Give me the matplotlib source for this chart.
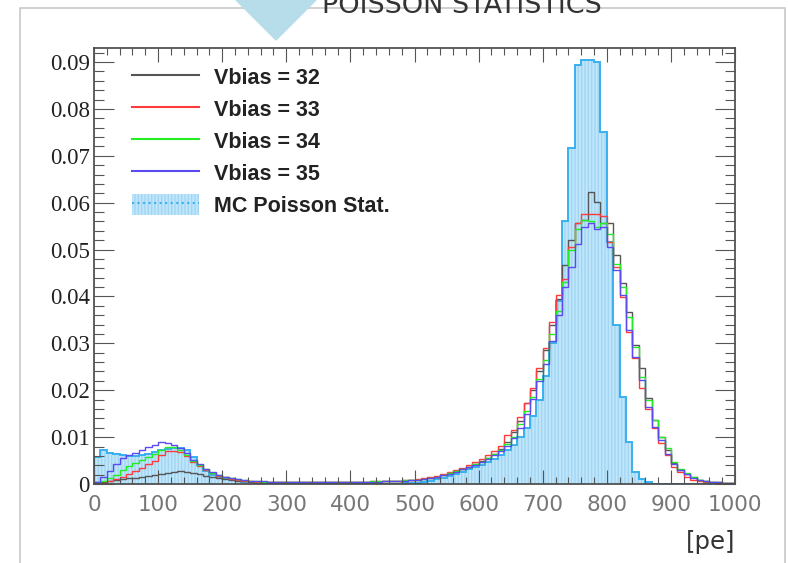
import numpy as np
import matplotlib.pyplot as plt
from matplotlib.lines import Line2D
from matplotlib.patches import Patch, Polygon, Rectangle

# bin edges [pe], 10 pe bins
edges = np.arange(0, 1010, 10)

vbias32 = [0.0005, 0.0005, 0.0006, 0.0009, 0.0010, 0.0012, 0.0013, 0.0015, 0.0018, 0.0020,
           0.0022, 0.0024, 0.0026, 0.0027, 0.0026, 0.0024, 0.0021, 0.0018, 0.0015, 0.0012,
           0.0010, 0.0008, 0.0007, 0.0006, 0.0005, 0.0005, 0.0004, 0.0004, 0.0004, 0.0004,
           0.0004, 0.0004, 0.0004, 0.0004, 0.0004, 0.0004, 0.0004, 0.0004, 0.0004, 0.0005,
           0.0005, 0.0005, 0.0005, 0.0005, 0.0005, 0.0006, 0.0006, 0.0007, 0.0007, 0.0008,
           0.0009, 0.0011, 0.0013, 0.0016, 0.0019, 0.0023, 0.0027, 0.0032, 0.0037, 0.0043,
           0.0049, 0.0056, 0.0064, 0.0075, 0.0090, 0.0110, 0.0135, 0.0172, 0.0200, 0.0240,
           0.0285, 0.0340, 0.0395, 0.0467, 0.0520, 0.0556, 0.0563, 0.0623, 0.0602, 0.0557,
           0.0557, 0.0488, 0.0428, 0.0367, 0.0296, 0.0247, 0.0183, 0.0136, 0.0100, 0.0072,
           0.0045, 0.0030, 0.0021, 0.0014, 0.0009, 0.0006, 0.0005, 0.0004, 0.0003, 0.0003]

vbias33 = [0.0002, 0.0003, 0.0006, 0.0010, 0.0016, 0.0022, 0.0028, 0.0034, 0.0042, 0.0050,
           0.0062, 0.0070, 0.0071, 0.0068, 0.0060, 0.0048, 0.0038, 0.0030, 0.0023, 0.0018,
           0.0014, 0.0011, 0.0009, 0.0007, 0.0006, 0.0005, 0.0005, 0.0005, 0.0004, 0.0004,
           0.0004, 0.0004, 0.0004, 0.0004, 0.0004, 0.0004, 0.0005, 0.0005, 0.0005, 0.0005,
           0.0005, 0.0005, 0.0005, 0.0006, 0.0006, 0.0006, 0.0007, 0.0007, 0.0008, 0.0009,
           0.0010, 0.0012, 0.0014, 0.0017, 0.0021, 0.0025, 0.0029, 0.0034, 0.0040, 0.0046,
           0.0053, 0.0061, 0.0070, 0.0082, 0.0104, 0.0115, 0.0144, 0.0172, 0.0204, 0.0247,
           0.0290, 0.0346, 0.0403, 0.0438, 0.0506, 0.0556, 0.0577, 0.0577, 0.0575, 0.0572,
           0.0517, 0.0463, 0.0399, 0.0325, 0.0268, 0.0204, 0.0161, 0.0119, 0.0087, 0.0062,
           0.0037, 0.0026, 0.0016, 0.0009, 0.0007, 0.0005, 0.0004, 0.0003, 0.0003, 0.0002]

vbias34 = [0.0003, 0.0006, 0.0012, 0.0020, 0.0030, 0.0038, 0.0045, 0.0052, 0.0058, 0.0064,
           0.0072, 0.0080, 0.0078, 0.0072, 0.0062, 0.0050, 0.0040, 0.0031, 0.0024, 0.0019,
           0.0015, 0.0012, 0.0010, 0.0008, 0.0007, 0.0006, 0.0005, 0.0005, 0.0005, 0.0005,
           0.0005, 0.0005, 0.0005, 0.0005, 0.0005, 0.0005, 0.0005, 0.0005, 0.0005, 0.0005,
           0.0005, 0.0005, 0.0005, 0.0006, 0.0006, 0.0006, 0.0007, 0.0007, 0.0008, 0.0008,
           0.0009, 0.0011, 0.0013, 0.0016, 0.0019, 0.0023, 0.0027, 0.0031, 0.0036, 0.0042,
           0.0048, 0.0055, 0.0063, 0.0072, 0.0085, 0.0100, 0.0128, 0.0155, 0.0185, 0.0225,
           0.0265, 0.0320, 0.0370, 0.0430, 0.0499, 0.0545, 0.0563, 0.0560, 0.0549, 0.0556,
           0.0534, 0.0470, 0.0420, 0.0357, 0.0293, 0.0229, 0.0179, 0.0136, 0.0101, 0.0076,
           0.0048, 0.0033, 0.0023, 0.0014, 0.0009, 0.0006, 0.0005, 0.0004, 0.0003, 0.0003]

vbias35 = [0.0005, 0.0015, 0.0028, 0.0042, 0.0055, 0.0062, 0.0066, 0.0072, 0.0078, 0.0084,
           0.0090, 0.0088, 0.0084, 0.0077, 0.0066, 0.0052, 0.0042, 0.0032, 0.0025, 0.0019,
           0.0015, 0.0012, 0.0010, 0.0008, 0.0007, 0.0006, 0.0006, 0.0005, 0.0005, 0.0005,
           0.0005, 0.0005, 0.0005, 0.0005, 0.0005, 0.0005, 0.0005, 0.0005, 0.0005, 0.0005,
           0.0004, 0.0004, 0.0004, 0.0005, 0.0005, 0.0006, 0.0006, 0.0007, 0.0007, 0.0008,
           0.0009, 0.0011, 0.0013, 0.0016, 0.0019, 0.0022, 0.0026, 0.0031, 0.0036, 0.0041,
           0.0047, 0.0054, 0.0062, 0.0070, 0.0082, 0.0098, 0.0120, 0.0150, 0.0182, 0.0220,
           0.0255, 0.0305, 0.0360, 0.0420, 0.0463, 0.0513, 0.0549, 0.0556, 0.0545, 0.0549,
           0.0506, 0.0456, 0.0403, 0.0328, 0.0271, 0.0222, 0.0165, 0.0122, 0.0094, 0.0065,
           0.0042, 0.0030, 0.0021, 0.0013, 0.0009, 0.0006, 0.0005, 0.0004, 0.0003, 0.0003]

mc_poisson = [0.0058, 0.0072, 0.0066, 0.0064, 0.0062, 0.0060, 0.0060, 0.0062, 0.0065, 0.0068,
              0.0072, 0.0075, 0.0077, 0.0076, 0.0072, 0.0058, 0.0040, 0.0028, 0.0020, 0.0014,
              0.0010, 0.0008, 0.0007, 0.0005, 0.0004, 0.0003, 0.0002, 0.0002, 0.0001, 0.0001,
              0.0001, 0.0001, 0.0001, 0.0001, 0.0001, 0.0001, 0.0001, 0.0001, 0.0001, 0.0,
              0.0, 0.0, 0.0, 0.0, 0.0, 0.0001, 0.0001, 0.0001, 0.0002, 0.0002,
              0.0003, 0.0005, 0.0007, 0.0010, 0.0013, 0.0017, 0.0021, 0.0026, 0.0031, 0.0036,
              0.0041, 0.0047, 0.0054, 0.0062, 0.0072, 0.0084, 0.0100, 0.0120, 0.0145, 0.0180,
              0.0230, 0.0300, 0.0390, 0.0560, 0.0716, 0.0893, 0.0904, 0.0905, 0.0900, 0.0751,
              0.0517, 0.0339, 0.0186, 0.0090, 0.0025, 0.0010, 0.0004, 0.0001, 0.0, 0.0,
              0.0, 0.0, 0.0, 0.0, 0.0, 0.0, 0.0, 0.0, 0.0, 0.0]

labels = ['Vbias = 32', 'Vbias = 33', 'Vbias = 34', 'Vbias = 35', 'MC Poisson Stat.']
colors = ['#555555', '#ff3b3b', '#22ee22', '#5a4af0']

yticks = [0, 0.01, 0.02, 0.03, 0.04, 0.05, 0.06, 0.07, 0.08, 0.09]
ylabels = ['0', '0.01', '0.02', '0.03', '0.04', '0.05', '0.06', '0.07', '0.08', '0.09']
xticks = [0, 100, 200, 300, 400, 500, 600, 700, 800, 900, 1000]

fill_c = '#bfe6fb'
hatch_c = '#a3d5f3'
mc_line = '#38b0ee'

fig = plt.figure(figsize=(7.88, 5.63), dpi=100)
ax = fig.add_axes([0.1193, 0.1403, 0.8135, 0.7744])

ax.stairs(mc_poisson, edges, fill=True, facecolor=fill_c, edgecolor=hatch_c,
          hatch='|||||', linewidth=0)
ax.stairs(mc_poisson, edges, color=mc_line, lw=1.4)
for vals, c in zip([vbias32, vbias33, vbias34, vbias35], colors):
    ax.stairs(vals, edges, color=c, lw=1.0)

ax.set_xlim(0, 1000)
ax.set_ylim(0, 0.0930)
ax.set_xticks(xticks)
ax.set_xticks(np.arange(0, 1001, 20), minor=True)
ax.set_yticks(yticks, ylabels)
ax.set_yticks(np.arange(0, 0.093, 0.002), minor=True)

ax.tick_params(axis='x', which='both', direction='in', top=True, color='#555555',
               width=0.8, pad=8, labelsize=15.5, labelcolor='#777777')
ax.tick_params(axis='x', which='major', length=10)
ax.tick_params(axis='x', which='minor', length=5)
ax.tick_params(axis='y', which='both', direction='in', right=True, color='#555555',
               width=0.8, pad=3, labelsize=16.5, labelcolor='#222222')
ax.tick_params(axis='y', which='major', length=14.5)
ax.tick_params(axis='y', which='minor', length=7.5)
for t in ax.get_yticklabels():
    t.set_fontfamily('Liberation Serif')
for s in ax.spines.values():
    s.set_color('#444444')
    s.set_linewidth(1.2)
ax.set_axisbelow(False)

ax.set_xlabel('[pe]', loc='right', fontsize=17.5, color='#333333', labelpad=11)

handles = [Line2D([], [], color=c, lw=1.5) for c in colors]
handles.append((Patch(facecolor=fill_c, edgecolor=hatch_c, hatch='|||||', lw=0),
                Line2D([], [], color=mc_line, ls=':', lw=1.5)))
ax.legend(handles, labels, loc='upper left', bbox_to_anchor=(0.06, 0.959),
          frameon=False, borderpad=0, borderaxespad=0, handlelength=3.1,
          handletextpad=0.7, labelspacing=0.44, handleheight=1.1, labelcolor='#222222',
          prop=dict(family='Liberation Sans', weight='bold', size=15.5))

# slide decoration around the plot
fig.add_artist(Rectangle((20 / 788, -0.05), 765 / 788, 1.035, transform=fig.transFigure,
                         fill=False, edgecolor='#c8c8c8', lw=1.2, zorder=0))
fig.add_artist(Polygon([(236 / 788, 1.0), (316 / 788, 1.0), (276 / 788, 1 - 40 / 563)],
                       closed=True, transform=fig.transFigure, color='#b6dde9', zorder=5))
fig.text(322 / 788, 1 - 13 / 563, 'POISSON STATISTICS', fontsize=19.5, color='#333333',
         va='baseline', ha='left')

fig.savefig('out.png', dpi=100)
